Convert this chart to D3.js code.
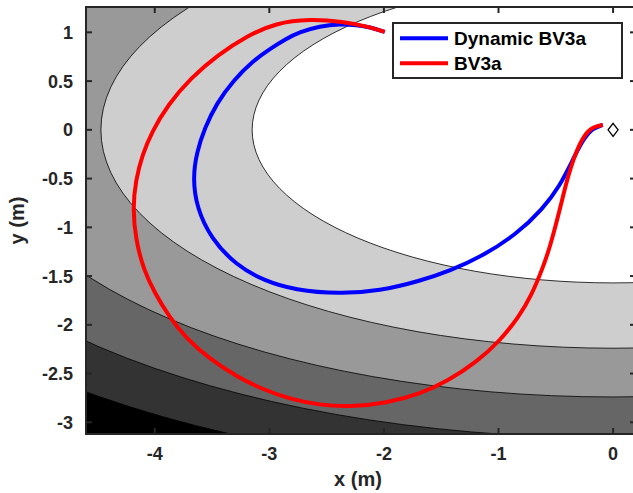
<!DOCTYPE html>
<html>
<head>
<meta charset="utf-8">
<script src="https://cdn.jsdelivr.net/npm/d3@7"></script>
<style>
  html, body { margin: 0; padding: 0; background: #fff; }
  svg { display: block; }
  text { font-family: "Liberation Sans", Arial, Helvetica, sans-serif; font-weight: bold; fill: #262626; }
</style>
</head>
<body>
<svg id="chart" width="633" height="493"></svg>
<script>
// ---------------- data ----------------
const xTicks = [-4, -3, -2, -1, 0];
const yTicks = [-3, -2.5, -2, -1.5, -1, -0.5, 0, 0.5, 1];
const xTickLabels = ["-4", "-3", "-2", "-1", "0"];
const yTickLabels = ["-3", "-2.5", "-2", "-1.5", "-1", "-0.5", "0", "0.5", "1"];

// contour levels (elliptical cost field centred on the target)
const contourLevels = [2.5, 5, 7.5, 10, 12.5];
const contourSemiX = [3.15, 4.47, 5.48, 6.32, 7.07];
const contourSemiY = [1.57, 2.24, 2.74, 3.16, 3.54];

const seriesNames = ["Dynamic BV3a", "BV3a"];

const dynX = [-1.993, -2.124, -2.237, -2.385, -2.560, -2.735, -2.857, -2.996, -3.145, -3.311, -3.459, -3.564, -3.633, -3.668, -3.633, -3.511, -3.293, -3.040, -2.778, -2.385, -2.036, -1.687, -1.425, -1.137, -0.841, -0.614, -0.465, -0.352, -0.265, -0.177, -0.090];
const dynY = [1.004, 1.055, 1.075, 1.086, 1.065, 1.003, 0.932, 0.829, 0.706, 0.511, 0.275, 0.019, -0.227, -0.494, -0.802, -1.110, -1.387, -1.551, -1.643, -1.684, -1.653, -1.551, -1.448, -1.294, -1.069, -0.812, -0.576, -0.309, -0.104, 0.019, 0.050];

const bvX = [-1.993, -2.124, -2.359, -2.647, -2.944, -3.197, -3.450, -3.686, -3.887, -4.026, -4.109, -4.166, -4.192, -4.166, -4.096, -4.000, -3.878, -3.721, -3.529, -3.293, -3.066, -2.822, -2.560, -2.298, -1.975, -1.687, -1.443, -1.190, -0.989, -0.823, -0.710, -0.614, -0.553, -0.465, -0.404, -0.326, -0.247, -0.177, -0.090];
const bvY = [1.004, 1.055, 1.111, 1.137, 1.096, 0.963, 0.768, 0.532, 0.255, -0.022, -0.258, -0.515, -0.802, -1.130, -1.438, -1.674, -1.910, -2.146, -2.340, -2.525, -2.658, -2.761, -2.823, -2.843, -2.802, -2.710, -2.576, -2.381, -2.166, -1.920, -1.694, -1.417, -1.212, -0.822, -0.515, -0.227, -0.043, 0.029, 0.050];

const targetX = [0];
const targetY = [0];

// ---------------- styles ----------------
const bandFill = ["#ffffff", "#cecece", "#999999", "#666666", "#333333"]; // inside each level ellipse
const outerFill = "#000000";
const seriesColor = ["#0000ff", "#ff0000"];
const axisColor = "#262626";

// ---------------- layout ----------------
const svg = d3.select("#chart");
const margin = { left: 86, top: 7, right: 636, bottom: 434 };
const x = d3.scaleLinear().domain([-4.6, 0.2]).range([margin.left, margin.right]);
const y = d3.scaleLinear().domain([-3.12, 1.26]).range([margin.bottom, margin.top]);

svg.append("defs").append("clipPath").attr("id", "plotclip")
  .append("rect")
  .attr("x", margin.left).attr("y", margin.top)
  .attr("width", margin.right - margin.left).attr("height", margin.bottom - margin.top);

const plot = svg.append("g").attr("clip-path", "url(#plotclip)");

plot.append("rect")
  .attr("x", margin.left).attr("y", margin.top)
  .attr("width", margin.right - margin.left).attr("height", margin.bottom - margin.top)
  .attr("fill", outerFill);

const levels = contourLevels.map((L, i) => ({ L, a: contourSemiX[i], b: contourSemiY[i], fill: bandFill[i] }));
plot.selectAll("ellipse.level")
  .data(levels.slice().reverse())
  .join("ellipse")
  .attr("class", "level")
  .attr("cx", x(0)).attr("cy", y(0))
  .attr("rx", d => x(d.a) - x(0))
  .attr("ry", d => y(0) - y(d.b))
  .attr("fill", d => d.fill)
  .attr("stroke", "#000")
  .attr("stroke-width", 0.8);

const line = d3.line().x(d => x(d[0])).y(d => y(d[1])).curve(d3.curveBasis);
const dynPts = dynX.map((v, i) => [v, dynY[i]]);
const bvPts = bvX.map((v, i) => [v, bvY[i]]);

plot.append("path").datum(dynPts).attr("d", line)
  .attr("fill", "none").attr("stroke", seriesColor[0]).attr("stroke-width", 4)
  .attr("stroke-linejoin", "round");
plot.append("path").datum(bvPts).attr("d", line)
  .attr("fill", "none").attr("stroke", seriesColor[1]).attr("stroke-width", 4)
  .attr("stroke-linejoin", "round");

plot.selectAll("path.target")
  .data(targetX.map((v, i) => [v, targetY[i]]))
  .join("path")
  .attr("class", "target")
  .attr("transform", d => `translate(${x(d[0])},${y(d[1])})`)
  .attr("d", "M0,-6.5L5,0L0,6.5L-5,0Z")
  .attr("fill", "none").attr("stroke", "#000").attr("stroke-width", 1.3);

// ---------------- axes ----------------
const tickLen = 6;
const axes = svg.append("g");
axes.append("rect")
  .attr("x", margin.left).attr("y", margin.top)
  .attr("width", margin.right - margin.left).attr("height", margin.bottom - margin.top)
  .attr("fill", "none").attr("stroke", axisColor).attr("stroke-width", 2);

xTicks.forEach(t => {
  axes.append("line").attr("x1", x(t)).attr("x2", x(t))
    .attr("y1", margin.bottom).attr("y2", margin.bottom - tickLen)
    .attr("stroke", axisColor).attr("stroke-width", 2);
  axes.append("line").attr("x1", x(t)).attr("x2", x(t))
    .attr("y1", margin.top).attr("y2", margin.top + tickLen)
    .attr("stroke", axisColor).attr("stroke-width", 2);
});
yTicks.forEach(t => {
  axes.append("line").attr("y1", y(t)).attr("y2", y(t))
    .attr("x1", margin.left).attr("x2", margin.left + tickLen)
    .attr("stroke", axisColor).attr("stroke-width", 2);
  axes.append("line").attr("y1", y(t)).attr("y2", y(t))
    .attr("x1", margin.right).attr("x2", margin.right - tickLen)
    .attr("stroke", axisColor).attr("stroke-width", 2);
});

axes.selectAll("text.xt").data(xTicks).join("text")
  .attr("class", "xt")
  .attr("x", d => x(d)).attr("y", 460)
  .attr("text-anchor", "middle").attr("font-size", 18)
  .text((d, i) => xTickLabels[i]);

axes.selectAll("text.yt").data(yTicks).join("text")
  .attr("class", "yt")
  .attr("x", 73).attr("y", d => y(d)).attr("dy", "0.36em")
  .attr("text-anchor", "end").attr("font-size", 18)
  .text((d, i) => yTickLabels[i]);

svg.append("text")
  .attr("x", (margin.left + 630) / 2).attr("y", 486)
  .attr("text-anchor", "middle").attr("font-size", 20)
  .text("x (m)");
svg.append("text")
  .attr("transform", `translate(24,${(margin.top + margin.bottom) / 2}) rotate(-90)`)
  .attr("text-anchor", "middle").attr("font-size", 20)
  .text("y (m)");

// ---------------- legend ----------------
const lg = svg.append("g");
lg.append("rect")
  .attr("x", 393).attr("y", 23).attr("width", 229).attr("height", 55)
  .attr("fill", "#fff").attr("stroke", axisColor).attr("stroke-width", 2);
seriesNames.forEach((name, i) => {
  const cy = 38.3 + i * 25;
  lg.append("line").attr("x1", 400).attr("x2", 448).attr("y1", cy).attr("y2", cy)
    .attr("stroke", seriesColor[i]).attr("stroke-width", 4);
  lg.append("text").attr("x", 454).attr("y", cy + 7)
    .attr("font-size", 19).style("fill", "#000")
    .text(name);
});
</script>
</body>
</html>
